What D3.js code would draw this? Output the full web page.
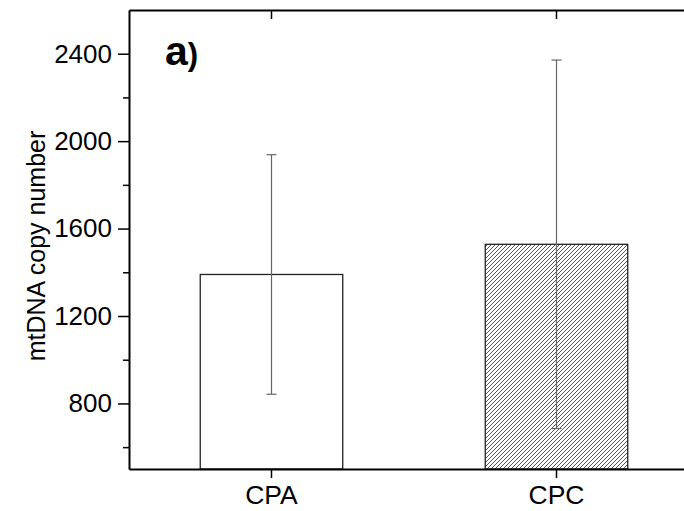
<!DOCTYPE html>
<html>
<head>
<meta charset="utf-8">
<script src="https://cdn.jsdelivr.net/npm/d3@7"></script>
<style>
  body { margin: 0; background: #fff; }
  text { font-family: "Liberation Sans", Arial, sans-serif; fill: #000; }
</style>
</head>
<body>
<div id="chart-area"></div>
<script>
// data
var categories = ["CPA", "CPC"];
var means = [1390, 1528];
var errors = [548, 843];
var yTicks = [800, 1200, 1600, 2000, 2400];
var yMinorTicks = [600, 1000, 1400, 1800, 2200];

var width = 684;
var height = 511;

var svg = d3.select("#chart-area").append("svg")
  .attr("width", width)
  .attr("height", height)

var defs = svg.append("defs")
var pat = defs.append("pattern")
  .attr("id", "hatch")
  .attr("patternUnits", "userSpaceOnUse")
  .attr("width", 4)
  .attr("height", 4)
pat.append("path")
  .attr("d", "M-1,1 l2,-2 M0,4 l4,-4 M3,5 l2,-2")
  .attr("stroke", "#555")
  .attr("stroke-width", 1)

var plotL = 129, plotT = 10, plotB = 469, plotR = 699;

var x = d3.scaleBand()
  .domain(categories)
  .range([plotL, plotR])
  .paddingInner(0.5)
  .paddingOuter(0.25)

var y = d3.scaleLinear()
  .domain([500, 2600])
  .range([plotB, plotT])

// bars
svg.selectAll("rect.bar")
  .data(categories)
  .enter().append("rect")
  .attr("class", "bar")
  .attr("x", d => x(d))
  .attr("y", (d, i) => y(means[i]))
  .attr("width", x.bandwidth())
  .attr("height", (d, i) => plotB - y(means[i]))
  .attr("fill", (d, i) => i == 0 ? "#fff" : "url(#hatch)")
  .attr("stroke", "#222")
  .attr("stroke-width", 1.3)

// error bars
var eb = svg.selectAll("g.err")
  .data(categories)
  .enter().append("g")
  .attr("class", "err")
  .attr("stroke", "#666")
  .attr("stroke-width", 1.2)

eb.append("line")
  .attr("x1", d => x(d) + x.bandwidth() / 2)
  .attr("x2", d => x(d) + x.bandwidth() / 2)
  .attr("y1", (d, i) => y(means[i] + errors[i]))
  .attr("y2", (d, i) => y(means[i] - errors[i]))
eb.append("line")
  .attr("x1", d => x(d) + x.bandwidth() / 2 - 5)
  .attr("x2", d => x(d) + x.bandwidth() / 2 + 5)
  .attr("y1", (d, i) => y(means[i] + errors[i]))
  .attr("y2", (d, i) => y(means[i] + errors[i]))
eb.append("line")
  .attr("x1", d => x(d) + x.bandwidth() / 2 - 5)
  .attr("x2", d => x(d) + x.bandwidth() / 2 + 5)
  .attr("y1", (d, i) => y(means[i] - errors[i]))
  .attr("y2", (d, i) => y(means[i] - errors[i]))

// Y axis
var yAxisCall = d3.axisLeft(y).tickValues(yTicks).tickSize(11).tickSizeOuter(0).tickPadding(6)
  .tickFormat(d3.format("d"))
var yAxis = svg.append("g")
  .attr("transform", "translate(" + plotL + ",0)")
  .call(yAxisCall)
yAxis.selectAll("text").attr("font-size", "26px").style("font-family", "'Liberation Sans', Arial, sans-serif")

var yMinor = svg.append("g")
  .attr("transform", "translate(" + plotL + ",0)")
  .call(d3.axisLeft(y).tickValues(yMinorTicks).tickSize(6).tickSizeOuter(0).tickFormat(""))
yMinor.select(".domain").remove()

// X axis
var xAxisCall = d3.axisBottom(x).tickSize(9).tickSizeOuter(0).tickPadding(7)
var xAxis = svg.append("g")
  .attr("transform", "translate(0," + plotB + ")")
  .call(xAxisCall)
xAxis.selectAll("text").attr("font-size", "26.5px").style("font-family", "'Liberation Sans', Arial, sans-serif")

// top axis (mirror)
svg.append("g")
  .attr("transform", "translate(0," + plotT + ")")
  .call(d3.axisTop(x).tickSize(-9).tickSizeOuter(0).tickFormat(""))

svg.selectAll(".domain").attr("stroke", "#000").attr("stroke-width", 2)
svg.selectAll(".tick line").attr("stroke", "#000").attr("stroke-width", 1.5)

// Y label
svg.append("text")
  .attr("x", -246)
  .attr("y", 45)
  .attr("font-size", "25px")
  .attr("text-anchor", "middle")
  .attr("transform", "rotate(-90)")
  .text("mtDNA copy number")

// panel label
var lab = svg.append("text")
  .attr("x", 165)
  .attr("y", 65)
lab.append("tspan").attr("font-size", "41px").attr("font-weight", "bold").text("a")
lab.append("tspan").attr("font-size", "31px").attr("font-weight", "bold").text(")")
</script>
</body>
</html>
